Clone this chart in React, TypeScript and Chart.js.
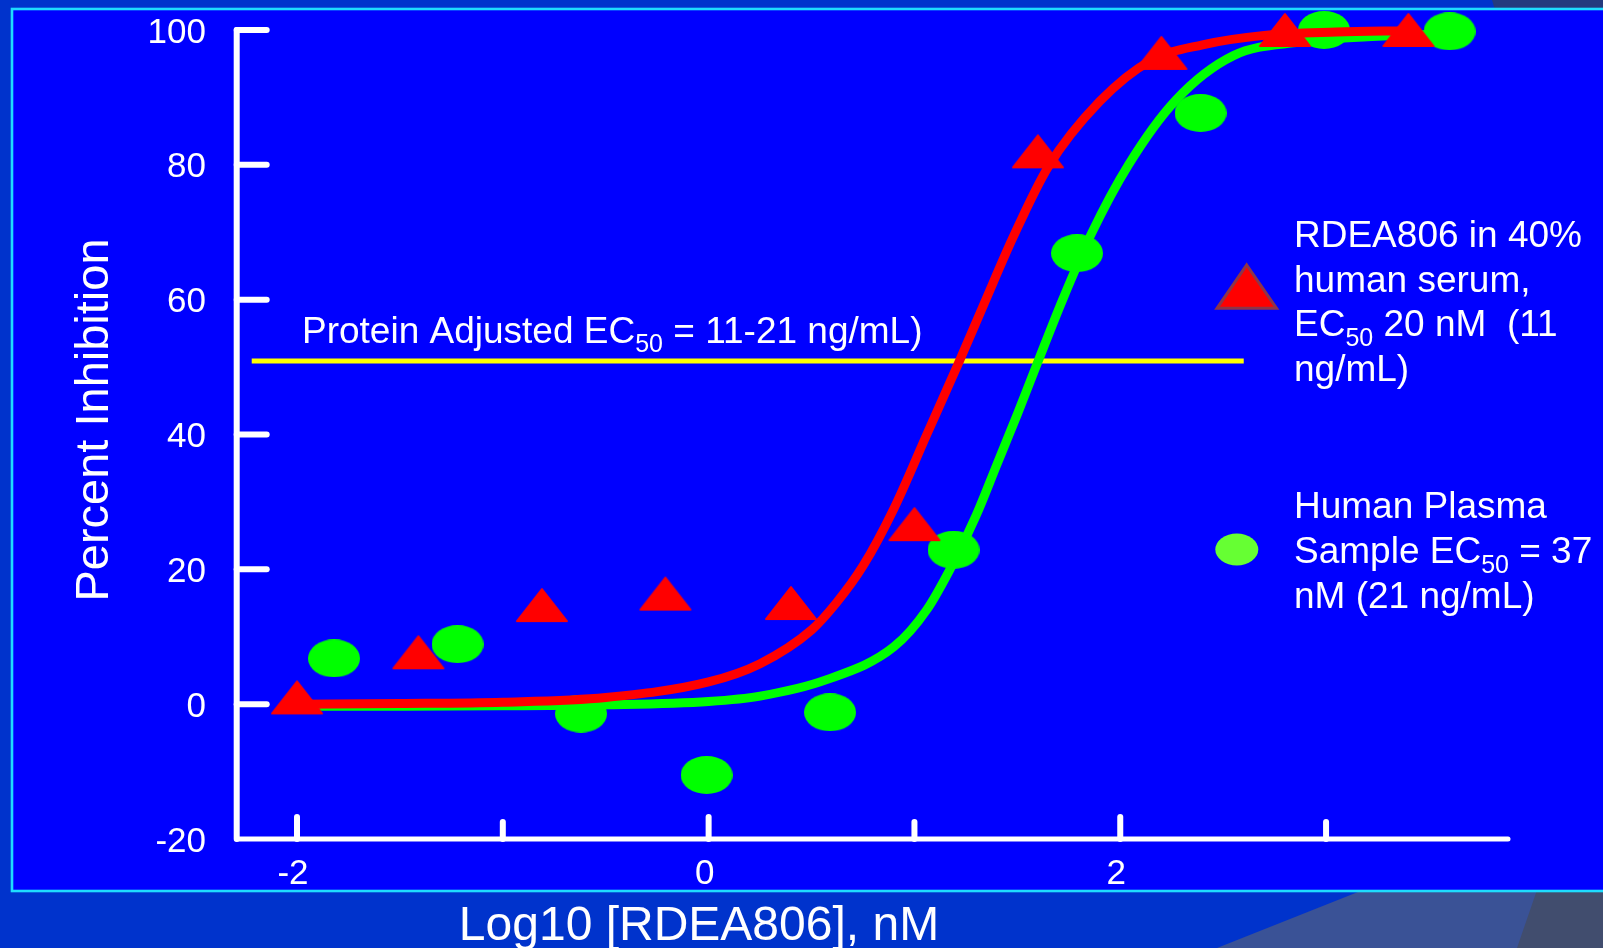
import React, { useEffect, useRef } from "react";
import { Chart, registerables } from "chart.js";

Chart.register(...registerables);

// ---- data ----
const serumX = [-2.0, -1.41, -0.81, -0.21, 0.4, 1.0, 1.6, 2.2, 2.8, 3.4];
const serumY = [1.0, 7.7, 14.7, 16.4, 15.0, 26.7, 82.0, 96.6, 100.0, 100.0];

const plasmaX = [-1.82, -1.22, -0.62, -0.01, 0.59, 1.19, 1.79, 2.39, 2.99, 3.6];
const plasmaY = [6.8, 8.9, -1.4, -10.5, -1.2, 22.9, 66.9, 87.7, 100.0, 99.8];

const serumFitX = [-2, -1.5, -1, -0.5, 0, 0.25, 0.5, 0.62, 0.75, 0.9, 1.06, 1.22, 1.34, 1.48, 1.65, 1.9, 2.15, 2.4, 2.7, 3.05, 3.4];
const serumFitY = [0, 0.1, 0.3, 1.0, 3.3, 6.0, 11, 15, 20.5, 29, 40, 51, 59.5, 69.3, 79.7, 89.4, 95.5, 97.8, 99.2, 99.7, 99.9];

const plasmaFitX = [-2, -1.5, -1, -0.5, 0, 0.25, 0.57, 0.9, 1.06, 1.19, 1.3, 1.4, 1.5, 1.6, 1.72, 1.86, 2.04, 2.27, 2.55, 2.87, 3.2, 3.6];
const plasmaFitY = [-0.3, -0.3, -0.25, -0.1, 0.4, 1.2, 3.6, 8.5, 14, 21, 28, 35.5, 43, 50.8, 60, 69.8, 80, 89.6, 96.2, 98.2, 99.0, 99.4];

const ec50LineX = [-2.22, 2.6];
const ec50LineY = [50.9, 50.9];

const yTicks = [-20, 0, 20, 40, 60, 80, 100];
const xMajorTicks = [-2, 0, 2];
const xMinorTicks = [-1, 1, 3];

const xTitle = "Log10 [RDEA806], nM";
const yTitle = "Percent Inhibition";
const annotationParts: [string, boolean][] = [["Protein Adjusted EC", false], ["50", true], [" = 11-21 ng/mL)", false]];
const legendSerum: [string, boolean][][] = [
  [["RDEA806 in 40%", false]],
  [["human serum,", false]],
  [["EC", false], ["50", true], [" 20 nM  (11", false]],
  [["ng/mL)", false]],
];
const legendPlasma: [string, boolean][][] = [
  [["Human Plasma", false]],
  [["Sample EC", false], ["50", true], [" = 37", false]],
  [["nM (21 ng/mL)", false]],
];

const FONT = "'Liberation Sans', Arial, sans-serif";

function pts(xs: number[], ys: number[]) {
  return xs.map((x, i) => ({ x, y: ys[i] }));
}

function drawParts(ctx: CanvasRenderingContext2D, parts: [string, boolean][], x: number, y: number, size: number, subSize: number, subDy: number) {
  let cx = x;
  ctx.textAlign = "left";
  ctx.textBaseline = "alphabetic";
  for (const [t, sub] of parts) {
    ctx.font = `${sub ? subSize : size}px ${FONT}`;
    ctx.fillText(t, cx, sub ? y + subDy : y);
    cx += ctx.measureText(t).width;
  }
}

function makeTriangle(w: number, h: number, fill: string) {
  const c = document.createElement("canvas");
  c.width = w + 2;
  c.height = h + 2;
  const g = c.getContext("2d")!;
  g.fillStyle = fill;
  g.strokeStyle = fill;
  g.lineWidth = 2;
  g.lineJoin = "round";
  g.beginPath();
  g.moveTo(c.width / 2, 2);
  g.lineTo(c.width - 2, c.height - 2);
  g.lineTo(2, c.height - 2);
  g.closePath();
  g.fill();
  g.stroke();
  return c;
}

function makeEllipse(w: number, h: number, fill: string) {
  const c = document.createElement("canvas");
  c.width = w;
  c.height = h;
  const g = c.getContext("2d")!;
  g.fillStyle = fill;
  g.beginPath();
  g.ellipse(w / 2, h / 2, w / 2, h / 2, 0, 0, Math.PI * 2);
  g.fill();
  return c;
}

const decorPlugin = {
  id: "decor",
  beforeDraw(chart: any) {
    const ctx: CanvasRenderingContext2D = chart.ctx;
    const W = chart.width, H = chart.height;
    ctx.save();
    ctx.fillStyle = "#0033CC";
    ctx.fillRect(0, 0, W, H);
    // decorative slate shapes
    ctx.fillStyle = "#3A5296";
    ctx.beginPath();
    ctx.moveTo(1363, 890); ctx.lineTo(W, 890); ctx.lineTo(W, H); ctx.lineTo(1217, H); ctx.closePath();
    ctx.fill();
    ctx.fillStyle = "#414D6E";
    ctx.beginPath();
    ctx.moveTo(1537, 890); ctx.lineTo(W, 890); ctx.lineTo(W, H); ctx.lineTo(1517, H); ctx.closePath();
    ctx.fill();
    ctx.fillStyle = "#243A7E";
    ctx.beginPath();
    ctx.moveTo(1492, 0); ctx.lineTo(W, 0); ctx.lineTo(W, 10); ctx.lineTo(1495, 10); ctx.closePath();
    ctx.fill();
    // panel
    ctx.fillStyle = "#0000FF";
    ctx.fillRect(12, 9, W, 882);
    ctx.strokeStyle = "#1EDCFF";
    ctx.lineWidth = 2.6;
    ctx.strokeRect(12, 9, W + 10, 882);
    ctx.restore();
  },
  beforeDatasetsDraw(chart: any) {
    const ctx: CanvasRenderingContext2D = chart.ctx;
    const xs = chart.scales.x, ys = chart.scales.y;
    const left = chart.chartArea.left, right = chart.chartArea.right;
    const top = chart.chartArea.top, bottom = chart.chartArea.bottom;
    ctx.save();
    ctx.strokeStyle = "#FFFFFF";
    ctx.lineCap = "round";
    // y axis
    ctx.lineWidth = 6;
    ctx.beginPath();
    ctx.moveTo(left, top); ctx.lineTo(left, bottom);
    ctx.stroke();
    // x axis
    ctx.lineWidth = 5;
    ctx.beginPath();
    ctx.moveTo(left, bottom); ctx.lineTo(right, bottom);
    ctx.stroke();
    // y ticks
    ctx.lineWidth = 6;
    for (const v of yTicks) {
      const py = ys.getPixelForValue(v);
      if (v === yTicks[0]) continue;
      ctx.beginPath();
      ctx.moveTo(left, py); ctx.lineTo(left + 30, py);
      ctx.stroke();
    }
    // x ticks
    for (const v of xMajorTicks) {
      const px = xs.getPixelForValue(v);
      ctx.beginPath();
      ctx.moveTo(px, bottom); ctx.lineTo(px, bottom - 22);
      ctx.stroke();
    }
    for (const v of xMinorTicks) {
      const px = xs.getPixelForValue(v);
      ctx.beginPath();
      ctx.moveTo(px, bottom); ctx.lineTo(px, bottom - 17);
      ctx.stroke();
    }
    // tick labels
    ctx.fillStyle = "#FFFFFF";
    ctx.font = `35px ${FONT}`;
    ctx.textAlign = "right";
    ctx.textBaseline = "alphabetic";
    for (const v of yTicks) {
      const py = ys.getPixelForValue(v);
      ctx.fillText(String(v), 206, py + 12.5);
    }
    ctx.textAlign = "center";
    for (const v of xMajorTicks) {
      const px = xs.getPixelForValue(v);
      ctx.fillText(String(v), px - 4, 883.5);
    }
    // titles
    ctx.font = `48px ${FONT}`;
    ctx.fillText(xTitle, 699, 940);
    ctx.save();
    ctx.translate(108, 420);
    ctx.rotate(-Math.PI / 2);
    ctx.font = `47px ${FONT}`;
    ctx.textAlign = "center";
    ctx.fillText(yTitle, 0, 0);
    ctx.restore();
    ctx.restore();
  },
  afterDraw(chart: any) {
    const ctx: CanvasRenderingContext2D = chart.ctx;
    ctx.save();
    ctx.fillStyle = "#FFFFFF";
    drawParts(ctx, annotationParts, 302, 343, 37, 25, 9);
    legendSerum.forEach((line, i) => drawParts(ctx, line, 1294, 246.7 + i * 44.8, 37, 25, 10));
    legendPlasma.forEach((line, i) => drawParts(ctx, line, 1294, 518.3 + i * 45, 37, 25, 10));
    // legend markers
    ctx.fillStyle = "#FF0000";
    ctx.strokeStyle = "#8E3448";
    ctx.lineWidth = 3;
    ctx.lineJoin = "miter";
    ctx.beginPath();
    ctx.moveTo(1246.7, 265); ctx.lineTo(1276.5, 308.3); ctx.lineTo(1217, 308.3); ctx.closePath();
    ctx.fill();
    ctx.stroke();
    ctx.fillStyle = "#66FF33";
    ctx.beginPath();
    ctx.ellipse(1236.8, 549.5, 21.5, 16, 0, 0, Math.PI * 2);
    ctx.fill();
    ctx.restore();
  },
};

export default function App() {
  const ref = useRef<HTMLCanvasElement>(null);
  useEffect(() => {
    const canvas = ref.current!;
    const tri = makeTriangle(52, 34, "#FF0000");
    const ell = makeEllipse(52, 38, "#00FF00");
    const chart = new Chart(canvas, {
      type: "line",
      data: {
        datasets: [
          {
            label: "RDEA806 in 40% human serum",
            data: pts(serumX, serumY),
            showLine: false,
            pointStyle: tri as any,
            pointRadius: 20,
            borderColor: "#FF0000",
            backgroundColor: "#FF0000",
            order: 0,
            clip: false as any,
          },
          {
            label: "Serum fit",
            data: pts(serumFitX, serumFitY),
            borderColor: "#FF0000",
            borderWidth: 9,
            pointRadius: 0,
            cubicInterpolationMode: "monotone",
            order: 1,
            clip: false as any,
          },
          {
            label: "Human Plasma Sample",
            data: pts(plasmaX, plasmaY),
            showLine: false,
            pointStyle: ell as any,
            pointRadius: 20,
            borderColor: "#00FF00",
            backgroundColor: "#00FF00",
            order: 2,
            clip: false as any,
          },
          {
            label: "Plasma fit",
            data: pts(plasmaFitX, plasmaFitY),
            borderColor: "#00FF00",
            borderWidth: 9,
            pointRadius: 0,
            cubicInterpolationMode: "monotone",
            order: 3,
            clip: false as any,
          },
          {
            label: "Protein Adjusted EC50",
            data: pts(ec50LineX, ec50LineY),
            borderColor: "#FFFF00",
            borderWidth: 5,
            pointRadius: 0,
            tension: 0,
            order: 4,
            clip: false as any,
          },
        ],
      },
      options: {
        responsive: false,
        animation: false,
        devicePixelRatio: 1,
        events: [],
        layout: { padding: { left: 236.7, right: 95, top: 30, bottom: 109 } },
        scales: {
          x: { type: "linear", min: -2.293, max: 3.884, display: false },
          y: { type: "linear", min: -20, max: 100, display: false },
        },
        plugins: {
          legend: { display: false },
          tooltip: { enabled: false },
        },
      },
      plugins: [decorPlugin],
    });
    return () => chart.destroy();
  }, []);
  return (
    <div style={{ position: "fixed", left: 0, top: 0, width: 1603, height: 948, overflow: "hidden" }}>
      <canvas ref={ref} width={1603} height={948} style={{ display: "block", width: 1603, height: 948 }} />
    </div>
  );
}
